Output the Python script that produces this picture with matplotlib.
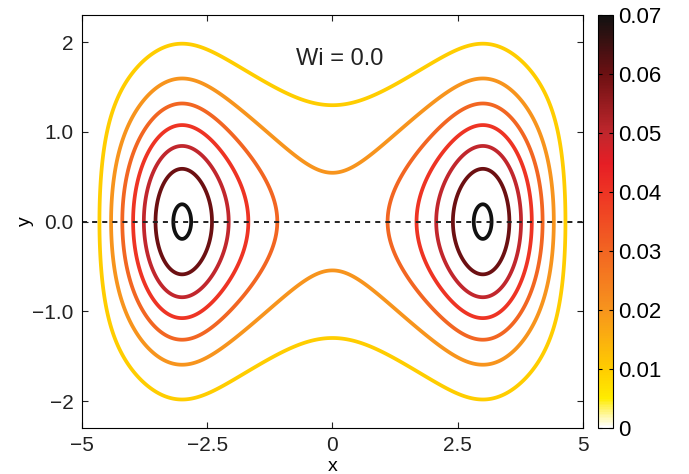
import numpy as np
import matplotlib
matplotlib.use("Agg")
import matplotlib.pyplot as plt
from matplotlib.colors import LinearSegmentedColormap, Normalize
from matplotlib.cm import ScalarMappable

plt.rcParams["font.family"] = ["Liberation Sans", "DejaVu Sans"]

# contour levels / colour scale
levels = [0.01, 0.02, 0.03, 0.04, 0.05, 0.06, 0.07]
cbar_ticks = [0, 0.01, 0.02, 0.03, 0.04, 0.05, 0.06, 0.07]
cbar_labels = ["0", "0.01", "0.02", "0.03", "0.04", "0.05", "0.06", "0.07"]
xticks = [-5, -2.5, 0, 2.5, 5]
xtick_labels = ["\u22125", "\u22122.5", "0", "2.5", "5"]
yticks = [-2, -1, 0, 1, 2]
ytick_labels = ["\u22122", "\u22121.0", "0.0", "1.0", "2"]

# flow model: two co-rotating cells, separable in x and y
vortex_x = [-3.085, 3.085]
source_strength = 0.1343
source_width = 0.45
screening = 0.68
wall_x = 4.89
y_scale = 1.0
symmetry_y = 0.0
wi_label = "Wi = 0.0"

# solve -X'' + k^2 X = f on [-L, L] with X = 0 at the walls
n = 801
xs = np.linspace(-wall_x, wall_x, n)
h = xs[1] - xs[0]
f = np.zeros(n)
for xc in vortex_x:
    f += source_strength * np.exp(-(xs - xc) ** 2 / (2 * source_width ** 2)) / (np.sqrt(2 * np.pi) * source_width)
A = (np.diag(np.full(n, 2 / h ** 2 + screening ** 2))
     - np.diag(np.full(n - 1, 1 / h ** 2), 1)
     - np.diag(np.full(n - 1, 1 / h ** 2), -1))
A[0, :] = 0
A[-1, :] = 0
A[0, 0] = 1
A[-1, -1] = 1
f[0] = 0
f[-1] = 0
X = np.linalg.solve(A, f)

ys = np.linspace(-2.3, 2.3, 401)
Y = np.exp(-ys ** 2 / (2 * y_scale ** 2))
psi = Y[:, None] * X[None, :]

cmap = LinearSegmentedColormap.from_list("wi", [
    (0.0, "#ffffff"), (0.03, "#fff7a0"), (0.07, "#ffec00"), (0.143, "#ffcc00"),
    (0.286, "#f7941d"), (0.429, "#f26522"), (0.571, "#ee3424"), (0.64, "#e61e25"),
    (0.714, "#c1272d"), (0.857, "#6d1012"), (1.0, "#111111")])
norm = Normalize(0, 0.07)

fig = plt.figure(figsize=(6.89, 4.74), dpi=100)
ax = fig.add_axes([0.119, 0.097, 0.727, 0.871])
cax = fig.add_axes([0.868, 0.097, 0.022, 0.871])

ax.contour(xs, ys, psi, levels=levels, cmap=cmap, norm=norm, linewidths=2.7)
ax.axhline(symmetry_y, color="#222222", lw=1.4, ls=(0, (2.6, 2.6)))

ax.text(0.15, 1.81, wi_label, ha="center", va="center", fontsize=17, color="#222222")

ax.set_xlim(-5, 5)
ax.set_ylim(-2.3, 2.3)
ax.set_xticks(xticks, xtick_labels)
ax.set_yticks(yticks, ytick_labels)
ax.tick_params(direction="in", top=True, right=True, labelsize=15, length=4, colors="#222222")
ax.tick_params(axis="x", pad=6)
ax.tick_params(axis="y", pad=6)
ax.set_xlabel("x", fontsize=14)
ax.set_ylabel("y", fontsize=14)
ax.xaxis.set_label_coords(0.5, -0.072)
ax.yaxis.set_label_coords(-0.096, 0.5)

cb = fig.colorbar(ScalarMappable(norm=norm, cmap=cmap), cax=cax, ticks=cbar_ticks)
cb.set_ticklabels(cbar_labels)
cb.outline.set_linewidth(0.8)
cax.tick_params(direction="in", left=True, right=True, labelsize=16, length=3)

fig.savefig("out.png", dpi=100)
